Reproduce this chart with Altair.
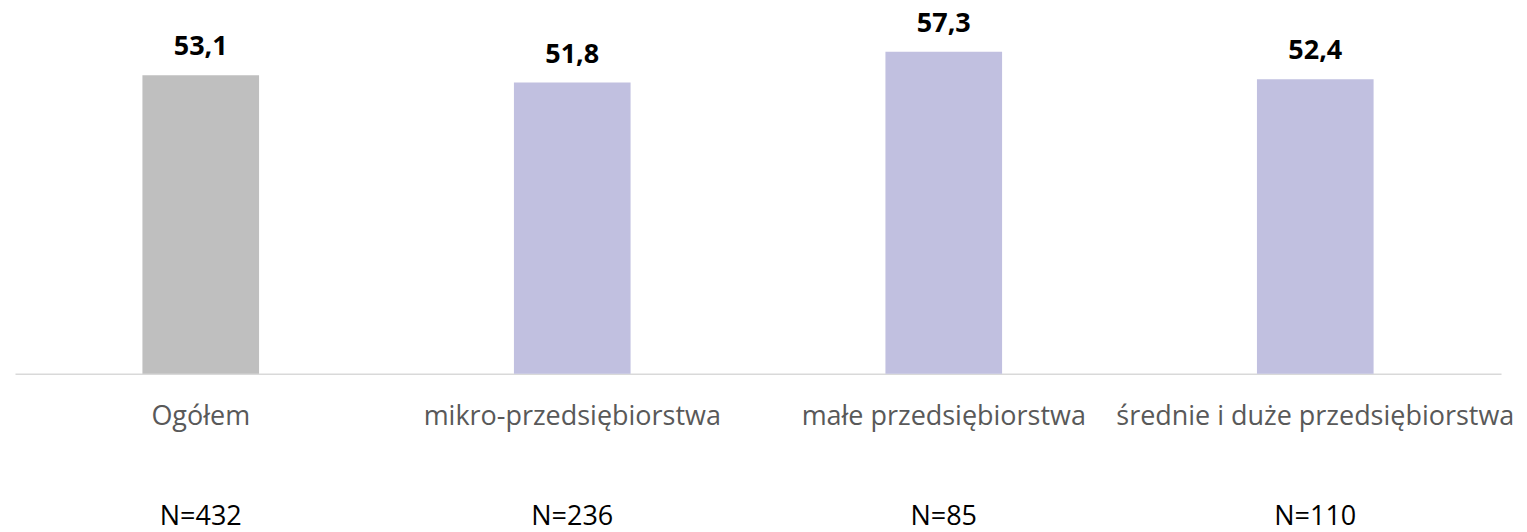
import altair as alt
import pandas as pd

categories = ["Ogółem", "mikro-przedsiębiorstwa", "małe przedsiębiorstwa", "średnie i duże przedsiębiorstwa"]
values = [53.1, 51.8, 57.3, 52.4]
n_labels = ["N=432", "N=236", "N=85", "N=110"]
groups = ["ogółem", "wielkość", "wielkość", "wielkość"]
group_domain = ["ogółem", "wielkość"]
group_colors = ["#BFBFBF", "#C1C0E0"]

df = pd.DataFrame({"category": categories, "value": values, "n": n_labels, "group": groups})

FONT = "Open Sans"

x = alt.X(
    "category:N",
    sort=categories,
    scale=alt.Scale(paddingInner=0.686, paddingOuter=0.343),
    axis=alt.Axis(
        title=None, labelAngle=0, ticks=False, tickSize=0, grid=False,
        domainColor="#D9D9D9", domainWidth=1.5,
        labelFont=FONT, labelFontSize=27, labelColor="#595959",
        labelPadding=51, labelBaseline="alphabetic", labelLimit=800,
    ),
)
y = alt.Y("value:Q", scale=alt.Scale(domain=[0, 65], nice=False, zero=True), axis=None)

base = alt.Chart(df)

bars = base.mark_bar().encode(
    x=x, y=y,
    color=alt.Color("group:N", scale=alt.Scale(domain=group_domain, range=group_colors), legend=None),
)

vals = base.transform_calculate(
    label="replace(format(datum.value, '.1f'), '.', ',')"
).mark_text(
    font=FONT, fontSize=27, fontWeight="bold", color="#000000", baseline="alphabetic", dy=-20
).encode(x=x, y=y, text="label:N")

ns = base.mark_text(
    font=FONT, fontSize=27, color="#000000", baseline="alphabetic"
).encode(x=x, y=alt.value(517), text="n:N")

chart = alt.layer(bars, vals, ns).properties(
    width=1488, height=366,
    padding={"left": 7, "top": 0, "right": 5, "bottom": 0},
).configure_view(stroke=None)

chart.save("out.html", embed_options={"renderer": "svg", "actions": False})
